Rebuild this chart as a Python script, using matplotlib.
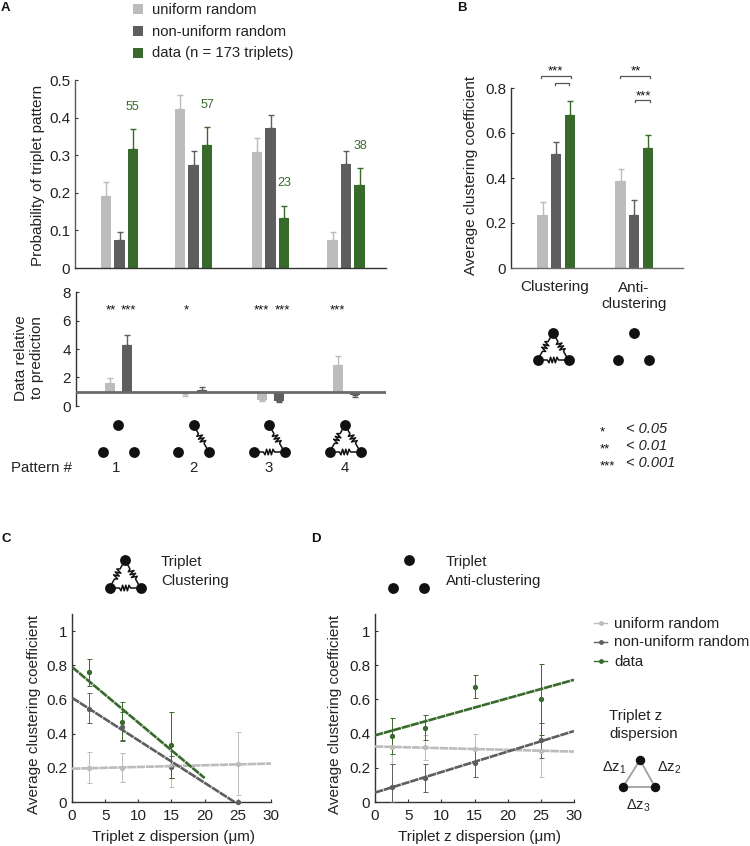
import numpy as np
import matplotlib
matplotlib.use('Agg')
import matplotlib.pyplot as plt

plt.rcParams['font.family'] = ['Liberation Sans', 'DejaVu Sans']
plt.rcParams['mathtext.fontset'] = 'custom'
plt.rcParams['mathtext.rm'] = 'Liberation Sans'
plt.rcParams['mathtext.it'] = 'Liberation Sans'
plt.rcParams['mathtext.default'] = 'regular'

# panel A, top
prob_uniform = [0.192, 0.422, 0.308, 0.075]
prob_uniform_top = [0.228, 0.460, 0.347, 0.097]
prob_nonuniform = [0.075, 0.275, 0.372, 0.277]
prob_nonuniform_top = [0.095, 0.310, 0.408, 0.312]
prob_data = [0.317, 0.328, 0.133, 0.220]
prob_data_top = [0.370, 0.375, 0.165, 0.265]
triplet_counts = ['55', '57', '23', '38']

# panel A, bottom
rel_uniform = [1.6, 0.85, 0.45, 2.9]
rel_uniform_end = [1.95, 0.68, 0.32, 3.5]
rel_nonuniform = [4.25, 1.15, 0.35, 0.8]
rel_nonuniform_end = [5.0, 1.35, 0.27, 0.65]
rel_stars = ['**', '***', '*', '***', '***', '***']
pattern_labels = ['1', '2', '3', '4']

# panel B
coef_uniform = [0.235, 0.385]
coef_uniform_top = [0.295, 0.44]
coef_nonuniform = [0.505, 0.235]
coef_nonuniform_top = [0.56, 0.30]
coef_data = [0.68, 0.535]
coef_data_top = [0.74, 0.59]
coef_groups = ['Clustering', 'Anti-\nclustering']

# panels C and D
z_bins = [2.5, 7.5, 15, 25]
z_ticks = [0, 5, 10, 15, 20, 25, 30]

c_uni = [0.20, 0.20, 0.21, 0.225]
c_uni_lo = [0.11, 0.115, 0.085, 0.04]
c_uni_hi = [0.295, 0.285, 0.30, 0.41]
c_non = [0.545, 0.44, 0.205, 0.0]
c_non_lo = [0.46, 0.355, 0.14, 0.0]
c_non_hi = [0.635, 0.525, 0.27, 0.0]
c_dat = [0.76, 0.47, 0.335]
c_dat_lo = [0.68, 0.36, 0.14]
c_dat_hi = [0.835, 0.585, 0.525]
c_fit_uni = ([0, 30], [0.195, 0.225])
c_fit_non = ([0, 24.5], [0.61, 0.0])
c_fit_dat = ([0, 20], [0.79, 0.14])

d_uni = [0.32, 0.32, 0.31, 0.30]
d_uni_lo = [0.22, 0.245, 0.23, 0.145]
d_uni_hi = [0.42, 0.39, 0.40, 0.46]
d_non = [0.09, 0.14, 0.23, 0.36]
d_non_lo = [0.0, 0.06, 0.145, 0.255]
d_non_hi = [0.225, 0.22, 0.31, 0.465]
d_dat = [0.385, 0.435, 0.675, 0.60]
d_dat_lo = [0.28, 0.36, 0.61, 0.39]
d_dat_hi = [0.49, 0.51, 0.745, 0.81]
d_fit_uni = ([0, 30], [0.325, 0.295])
d_fit_non = ([0, 30], [0.055, 0.415])
d_fit_dat = ([0, 30], [0.39, 0.715])

LIGHT = '#bcbcbc'
DARK = '#5e5e5e'
GREEN = '#386b2b'
TEXT = '#222222'
W, H = 750, 846

fig = plt.figure(figsize=(W / 100, H / 100), dpi=100)


def axes_px(left, top, right, bottom):
    ax = fig.add_axes([left / W, 1 - bottom / H, (right - left) / W, (bottom - top) / H])
    ax.patch.set_alpha(0)
    for s in ['top', 'right']:
        ax.spines[s].set_visible(False)
    for s in ['left', 'bottom']:
        ax.spines[s].set_color('#333333')
        ax.spines[s].set_linewidth(1.0)
    ax.tick_params(labelsize=11, labelcolor=TEXT, color='#333333', length=2.2, width=0.8,
                   direction='in')
    ax.tick_params(axis='y', pad=3.5)
    ax.tick_params(axis='x', pad=5)
    return ax


def bars(ax, x, h, top, color, base=0):
    h = np.array(h)
    top = np.array(top)
    x = np.array(x)
    ax.bar(x, h - base, width=10.5, bottom=base, color=color, zorder=2)
    up = np.where(top > h, top - h, 0)
    down = np.where(top < h, h - top, 0)
    ax.errorbar(x, h, yerr=[down, up], fmt='none', ecolor=color, elinewidth=1.0,
                capsize=2, capthick=1.0, zorder=2)


# A top, x axis in pixels
groups_a = np.array([119.5, 193.5, 270.5, 346.0])
ax_a = axes_px(75, 80, 386, 268)
ax_a.set_xlim(75, 386)
ax_a.set_ylim(0, 0.5)
bars(ax_a, groups_a - 13.5, prob_uniform, prob_uniform_top, LIGHT)
bars(ax_a, groups_a, prob_nonuniform, prob_nonuniform_top, DARK)
bars(ax_a, groups_a + 13.5, prob_data, prob_data_top, GREEN)
ax_a.spines['left'].set_color('#5a5a5a')
ax_a.set_xticks([])
ax_a.set_yticks([0, 0.1, 0.2, 0.3, 0.4, 0.5])
ax_a.set_yticklabels(['0', '0.1', '0.2', '0.3', '0.4', '0.5'])

# A bottom
groups_r = np.array([118.5, 193.5, 270.5, 346.5])
ax_r = axes_px(76, 292, 386, 406)
ax_r.set_xlim(76, 386)
ax_r.set_ylim(0, 8)
ax_r.spines['bottom'].set_visible(False)
bars(ax_r, groups_r - 8.5, rel_uniform, rel_uniform_end, LIGHT, base=1)
bars(ax_r, groups_r + 8.5, rel_nonuniform, rel_nonuniform_end, DARK, base=1)
ax_r.axhline(1, color='#6a6a6a', lw=2.0, zorder=3)
ax_r.set_xticks([])
ax_r.set_yticks([0, 2, 4, 6, 8])

# B
groups_b = np.array([556.0, 634.0])
ax_b = axes_px(511, 88, 683, 268)
ax_b.set_xlim(511, 683)
ax_b.set_ylim(0, 0.8)
bars(ax_b, groups_b - 13.5, coef_uniform, coef_uniform_top, LIGHT)
bars(ax_b, groups_b, coef_nonuniform, coef_nonuniform_top, DARK)
bars(ax_b, groups_b + 14, coef_data, coef_data_top, GREEN)
ax_b.spines['bottom'].set_color('#6a6a6a')
ax_b.set_xticks([])
ax_b.set_yticks([0, 0.2, 0.4, 0.6, 0.8])
ax_b.set_yticklabels(['0', '0.2', '0.4', '0.6', '0.8'])


def scatter_panel(ax, series, fits):
    ax.set_xlim(0, 30)
    ax.set_ylim(0, 1.1)
    ax.set_xticks(z_ticks)
    ax.set_yticks([0, 0.2, 0.4, 0.6, 0.8, 1])
    ax.set_yticklabels(['0', '0.2', '0.4', '0.6', '0.8', '1'])
    for (y, lo, hi, col), (fx, fy) in zip(series, fits):
        y = np.array(y)
        x = z_bins[:len(y)]
        ax.errorbar(x, y, yerr=[y - np.array(lo), np.array(hi) - y], fmt='o', ms=2.8,
                    color=col, ecolor=col, elinewidth=0.7, capsize=1.8, capthick=0.7,
                    clip_on=False, zorder=3)
        ax.plot(fx, fy, color=col, lw=1.9, ls=(0, (3.2, 0.3)), zorder=4)


ax_c = axes_px(72, 614, 271, 802)
scatter_panel(ax_c,
              [(c_uni, c_uni_lo, c_uni_hi, LIGHT), (c_non, c_non_lo, c_non_hi, DARK),
               (c_dat, c_dat_lo, c_dat_hi, GREEN)],
              [c_fit_uni, c_fit_non, c_fit_dat])

ax_d = axes_px(375, 614, 574, 802)
scatter_panel(ax_d,
              [(d_uni, d_uni_lo, d_uni_hi, LIGHT), (d_non, d_non_lo, d_non_hi, DARK),
               (d_dat, d_dat_lo, d_dat_hi, GREEN)],
              [d_fit_uni, d_fit_non, d_fit_dat])

# overlay in pixel coordinates for labels and the little icons
ov = fig.add_axes([0, 0, 1, 1], zorder=10)
ov.set_xlim(0, W)
ov.set_ylim(H, 0)
ov.axis('off')


def label(x, y, s, size=11, **kw):
    kw.setdefault('ha', 'center')
    kw.setdefault('va', 'center')
    kw.setdefault('color', TEXT)
    ov.text(x, y, s, fontsize=size, **kw)


def spring(p, q):
    p, q = np.array(p, float), np.array(q, float)
    d = q - p
    n = np.array([-d[1], d[0]]) / np.hypot(*d)
    t = np.linspace(0.32, 0.68, 8)
    amp = np.array([0, 2.8, -2.8, 2.8, -2.8, 2.8, -2.8, 0])
    pts = np.array([p + d * a + n * b for a, b in zip(t, amp)])
    pts = np.vstack([p, pts, q])
    ov.plot(pts[:, 0], pts[:, 1], color='#111111', lw=1.1, zorder=1)


def icon(cx, edges, half=15.5, top=425, bottom=452):
    a = (cx, top)
    b = (cx - half, bottom)
    c = (cx + half, bottom)
    names = {'ab': (a, b), 'ac': (a, c), 'bc': (b, c)}
    for e in edges:
        spring(*names[e])
    for p in (a, b, c):
        ov.plot(*p, 'o', ms=7.8, color='#111111', mew=0, zorder=2)


icon(118, '')
icon(193.5, ['ac'])
icon(269, ['ac', 'bc'])
icon(345, ['ab', 'ac', 'bc'])
icon(553, ['ab', 'ac', 'bc'], top=333, bottom=360)
icon(633.5, '', top=333, bottom=360)
icon(125, ['ab', 'ac', 'bc'], top=560, bottom=588)
icon(408.5, '', top=560, bottom=588)

# z dispersion triangle, plain edges
tri_x = [640, 623, 655, 640]
tri_y = [760, 787, 787, 760]
ov.plot(tri_x, tri_y, color='#a0a0a0', lw=1.3, zorder=1)
ov.plot(tri_x[:3], tri_y[:3], 'o', ms=6.8, color='#111111', mew=0, zorder=2)

# panel letters
for x, y, s in [(1, 8, 'A'), (457, 8, 'B'), (1, 539, 'C'), (311, 539, 'D')]:
    label(x, y, s, size=9.5, ha='left', weight='bold', color='#111111')

# legend A
leg_names = ['uniform random', 'non-uniform random', 'data (n = 173 triplets)']
for y, col, s in zip([9, 31, 53], [LIGHT, DARK, GREEN], leg_names):
    ov.plot(138, y, 's', ms=6.8, color=col, mew=0)
    label(152, y + 0.5, s, size=10.7, ha='left')

# counts over the green bars
for (x, y), s in zip([(132, 107), (207, 105), (284, 183), (360, 146)], triplet_counts):
    label(x, y, s, size=9, color=GREEN)

label(38.5, 175, 'Probability of triplet pattern', rotation=90, size=11)
label(29, 358, 'Data relative\nto prediction', rotation=90, size=11, linespacing=1.15)
label(471, 175, 'Average clustering coefficient', rotation=90, size=11)
label(34, 714, 'Average clustering coefficient', rotation=90, size=11)
label(335, 714, 'Average clustering coefficient', rotation=90, size=11)
label(173, 837, 'Triplet z dispersion (\u03bcm)', size=11)
label(479, 837, 'Triplet z dispersion (\u03bcm)', size=11)

for x, s in zip([111, 128, 186, 261, 282, 337], rel_stars):
    label(x, 310, s, size=9.5, color='#111111')
label(11, 468, 'Pattern #', size=10.8, ha='left')
for x, s in zip([116, 193, 269, 345], pattern_labels):
    label(x, 468, s, size=10.8)

# B labels and brackets
label(555, 287, coef_groups[0], size=11)
label(634, 296, coef_groups[1], size=11, linespacing=1.15)
for x0, x1, y, tick in [(541, 571, 76, 2), (555, 569, 83, 2), (620, 650, 76, 2), (635, 650, 100, 2)]:
    ov.plot([x0, x0, x1, x1], [y + tick, y, y, y + tick], color='#555555', lw=0.9)
label(555, 71, '***', size=9.5, color='#111111')
label(636, 71, '**', size=9.5, color='#111111')
label(643, 96, '***', size=9.5, color='#111111')

# significance key
for y, s, p in zip([432, 449, 466], ['*', '**', '***'], ['< 0.05', '< 0.01', '< 0.001']):
    label(600, y, s, size=9.5, ha='left', color='#111111')
    label(626, y - 3, p, size=10.5, ha='left', style='italic')

# icon captions
label(161, 562, 'Triplet', size=10.8, ha='left')
label(161, 581, 'Clustering', size=10.8, ha='left')
label(446, 562, 'Triplet', size=10.8, ha='left')
label(446, 581, 'Anti-clustering', size=10.8, ha='left')

# legend C and D
for y, col, s in zip([623, 642, 661.5], [LIGHT, DARK, GREEN], ['uniform random', 'non-uniform random', 'data']):
    ov.plot([594, 607], [y, y], color=col, lw=1.0)
    ov.plot(600.5, y, 'o', ms=3.5, color=col, mew=0)
    label(614, y + 0.5, s, size=10.8, ha='left')

label(609, 716, 'Triplet z', size=10.8, ha='left')
label(609, 734, 'dispersion', size=10.8, ha='left')
label(614, 768, r'$\Delta z_1$', size=10.5)
label(669, 768, r'$\Delta z_2$', size=10.5)
label(638, 806, r'$\Delta z_3$', size=10.5)

fig.savefig('out.png', dpi=100)
